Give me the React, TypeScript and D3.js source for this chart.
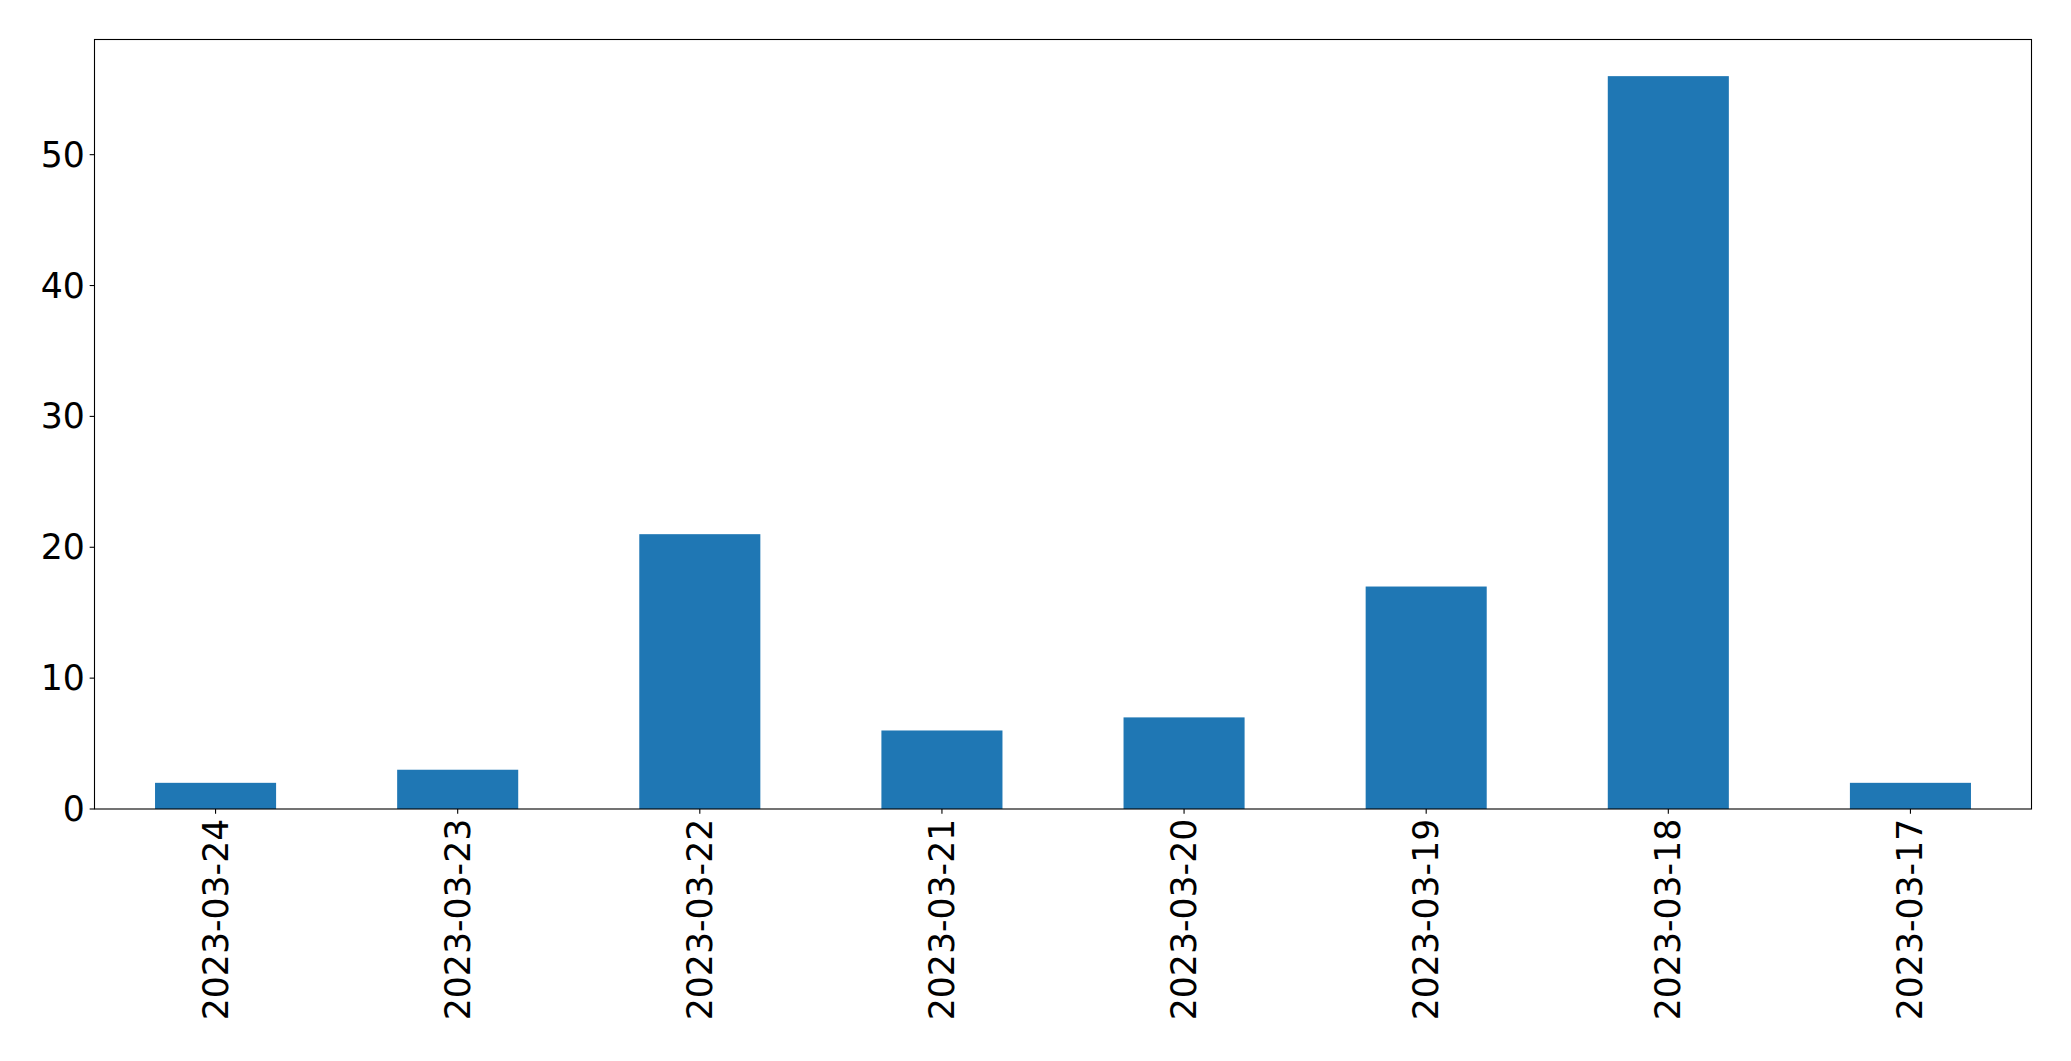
import React from "react";
import * as d3 from "d3";

const categories = ["2023-03-24", "2023-03-23", "2023-03-22", "2023-03-21", "2023-03-20", "2023-03-19", "2023-03-18", "2023-03-17"];
const values = [2, 3, 21, 6, 7, 17, 56, 2];
const yTicks = [0, 10, 20, 30, 40, 50];

const W = 2071;
const H = 1061;
const M = { left: 94.5, right: 2031.5, top: 39.5, bottom: 809 };
const FONT = "'DejaVu Sans', sans-serif";
const FS = 34.7;

export default function App() {
  const x = d3
    .scaleBand<string>()
    .domain(categories)
    .range([M.left, M.right])
    .paddingInner(0.5)
    .paddingOuter(0.25);
  const yMax = d3.max(values)! * 1.05;
  const y = d3.scaleLinear().domain([0, yMax]).range([M.bottom, M.top]);
  const tickLen = 4.86;
  const pad = 4.86;

  return (
    <svg
      width={W}
      height={H}
      style={{ position: "absolute", left: 0, top: 0, background: "#fff" }}
      fontFamily={FONT}
    >
      <rect x={0} y={0} width={W} height={H} fill="#fff" />
      {categories.map((c, i) => (
        <rect
          key={c}
          x={x(c)!}
          y={y(values[i])}
          width={x.bandwidth()}
          height={y(0) - y(values[i])}
          fill="#1f77b4"
        />
      ))}
      <rect
        x={M.left}
        y={M.top}
        width={M.right - M.left}
        height={M.bottom - M.top}
        fill="none"
        stroke="#000"
        strokeWidth={1.1}
      />
      {yTicks.map((t) => (
        <g key={t}>
          <line x1={M.left - tickLen} x2={M.left} y1={y(t)} y2={y(t)} stroke="#000" strokeWidth={1.1} />
          <text
            x={M.left - tickLen - pad}
            y={y(t)}
            textAnchor="end"
            dominantBaseline="central"
            fontSize={FS}
            fill="#000"
          >
            {t}
          </text>
        </g>
      ))}
      {categories.map((c) => {
        const cx = x(c)! + x.bandwidth() / 2;
        return (
          <g key={c}>
            <line x1={cx} x2={cx} y1={M.bottom} y2={M.bottom + tickLen} stroke="#000" strokeWidth={1.1} />
            <text
              transform={`translate(${cx},${M.bottom + tickLen + pad}) rotate(-90)`}
              textAnchor="end"
              dominantBaseline="central"
              fontSize={FS}
              fill="#000"
            >
              {c}
            </text>
          </g>
        );
      })}
    </svg>
  );
}
